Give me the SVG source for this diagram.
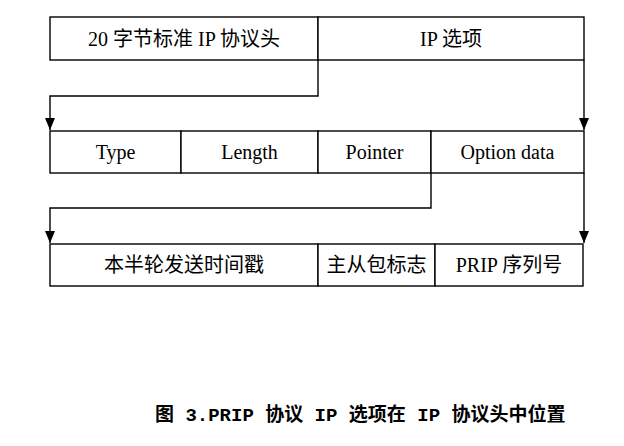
<svg xmlns="http://www.w3.org/2000/svg" width="624" height="446" viewBox="0 0 624 446">
<defs>
<style>
.box{fill:#fff;stroke:#000;stroke-width:1.4}
.ln{fill:none;stroke:#000;stroke-width:1.4}
.t{font-family:"Liberation Serif","Noto Sans CJK SC",serif;font-size:20px;text-anchor:middle;fill:#000}
.cap{font-family:"Liberation Mono","Noto Sans CJK SC",monospace;font-size:19px;font-weight:bold;fill:#000}
</style>
<marker id="ah" markerWidth="12" markerHeight="10" refX="12" refY="5" orient="auto" markerUnits="userSpaceOnUse" viewBox="0 0 12 10">
<path d="M0,0 L12,5 L0,10 Z" fill="#000"/>
</marker>
</defs>
<rect width="624" height="446" fill="#fff"/>
<g id="row1">
<g id="n-std"><rect class="box" x="50" y="17" width="268" height="43"/><text class="t" x="184" y="46">20 字节标准 IP 协议头</text></g>
<g id="n-ipopt"><rect class="box" x="318" y="17" width="266" height="43"/><text class="t" x="451" y="46">IP 选项</text></g>
</g>
<g id="row2">
<g id="n-type"><rect class="box" x="50" y="131" width="131" height="42"/><text class="t" x="115.5" y="159">Type</text></g>
<g id="n-length"><rect class="box" x="181" y="131" width="137" height="42"/><text class="t" x="249.5" y="159">Length</text></g>
<g id="n-pointer"><rect class="box" x="318" y="131" width="113" height="42"/><text class="t" x="374.5" y="159">Pointer</text></g>
<g id="n-optdata"><rect class="box" x="431" y="131" width="153" height="42"/><text class="t" x="507.5" y="159">Option data</text></g>
</g>
<g id="row3">
<g id="n-ts"><rect class="box" x="50" y="244" width="268" height="42"/><text class="t" x="184" y="272">本半轮发送时间戳</text></g>
<g id="n-flag"><rect class="box" x="318" y="244" width="117" height="42"/><text class="t" x="376.5" y="272">主从包标志</text></g>
<g id="n-seq"><rect class="box" x="435" y="244" width="148" height="42"/><text class="t" x="509" y="272">PRIP 序列号</text></g>
</g>
<g id="connectors">
<path class="ln" d="M318,60 V96 H50 V130" marker-end="url(#ah)"/>
<path class="ln" d="M584,60 V130" marker-end="url(#ah)"/>
<path class="ln" d="M431,173 V208 H50 V243" marker-end="url(#ah)"/>
<path class="ln" d="M584,173 V243" marker-end="url(#ah)"/>
</g>
<text class="cap" x="155" y="421">图 3.PRIP 协议 IP 选项在 IP 协议头中位置</text>
</svg>
